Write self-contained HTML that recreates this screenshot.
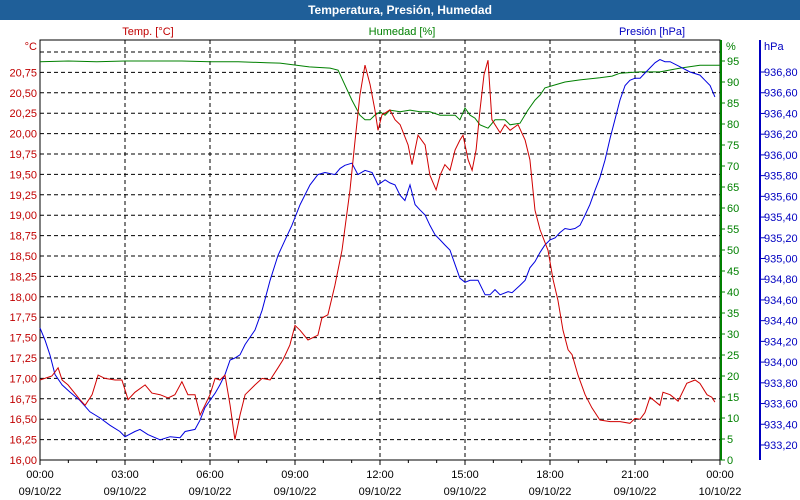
<!DOCTYPE html>
<html><head><meta charset="utf-8"><style>
body{margin:0;background:#fff;}
svg{display:block;font-family:"Liberation Sans",sans-serif;font-size:11px;}
</style></head><body>
<svg id="chart" width="800" height="500">
<rect x="0" y="0" width="800" height="500" fill="#fff"/>
<rect x="0" y="0" width="800" height="20" fill="#1f5f99"/>
<text x="400" y="14" text-anchor="middle" fill="#fff" font-weight="bold" font-size="12">Temperatura, Presión, Humedad</text>
<text x="148" y="35" text-anchor="middle" fill="#c00000">Temp. [°C]</text>
<text x="402" y="35" text-anchor="middle" fill="#008000">Humedad [%]</text>
<text x="652" y="35" text-anchor="middle" fill="#0000c0">Presión [hPa]</text>
<text x="37" y="50" text-anchor="end" fill="#c00000">°C</text>
<text x="726" y="50" fill="#008000">%</text>
<text x="764" y="50" fill="#0000c0">hPa</text>
<g id="grid"></g>
<g id="axes"></g>
<g id="series"></g>
</svg>
<script>
const tempHours=[0,0.42,0.64,0.78,0.99,1.41,1.59,1.84,2.05,2.29,2.65,2.89,3.11,3.35,3.71,3.95,4.24,4.52,4.76,5.01,5.22,5.47,5.65,5.82,6.0,6.18,6.35,6.53,6.71,6.88,7.06,7.24,7.59,7.84,8.12,8.4,8.58,8.82,9.0,9.18,9.46,9.81,9.95,10.16,10.41,10.66,10.94,11.12,11.29,11.47,11.65,11.82,11.93,12.07,12.21,12.35,12.53,12.71,12.99,13.13,13.34,13.59,13.76,13.98,14.12,14.29,14.47,14.65,14.82,14.93,15.11,15.25,15.39,15.53,15.67,15.81,15.95,16.24,16.41,16.59,16.87,17.12,17.29,17.47,17.65,17.93,18.11,18.28,18.46,18.64,18.78,18.99,19.24,19.48,19.76,20.12,20.47,20.82,21.0,21.18,21.35,21.53,21.88,21.99,22.24,22.52,22.83,23.12,23.29,23.54,23.71,23.82];
const tempValues=[16.98,17.03,17.13,16.98,16.92,16.74,16.67,16.8,17.04,17.0,16.98,16.98,16.74,16.83,16.92,16.82,16.8,16.76,16.8,16.96,16.8,16.8,16.55,16.67,16.8,17.0,16.98,17.04,16.67,16.25,16.55,16.8,16.92,17.0,16.98,17.13,17.23,17.41,17.65,17.59,17.47,17.53,17.74,17.78,18.14,18.57,19.31,19.92,20.47,20.84,20.6,20.29,20.04,20.23,20.26,20.29,20.17,20.11,19.86,19.62,19.98,19.86,19.49,19.31,19.49,19.62,19.55,19.8,19.92,19.98,19.68,19.55,19.8,20.29,20.72,20.9,20.17,20.01,20.11,20.04,20.11,19.92,19.68,19.06,18.82,18.57,18.21,17.96,17.59,17.35,17.29,17.04,16.8,16.64,16.49,16.47,16.47,16.45,16.51,16.5,16.58,16.77,16.67,16.83,16.8,16.72,16.94,16.98,16.94,16.8,16.77,16.71];
const humHours=[0,1,2,3,4,5,6,7,8,8.47,9.5,10.24,10.52,10.76,11.01,11.29,11.47,11.65,11.82,12.0,12.18,12.35,12.71,13.06,13.41,13.76,14.12,14.65,14.82,15.0,15.18,15.35,15.53,15.81,16.06,16.41,16.59,16.94,17.22,17.47,17.65,17.82,18.18,18.53,19.06,19.76,20.19,20.47,21.18,21.88,22.59,23.29,24];
const humValues=[94.8,95,94.8,95,95,95,94.8,94.8,94.6,94.5,93.6,93.3,92.8,89.3,85.7,82.1,81.0,81.0,82.1,82.9,82.1,83.3,82.9,83.3,82.9,82.9,82.1,82.1,81.0,83.8,82.1,81.4,79.8,79.0,81.0,81.0,79.8,80.2,83.3,85.7,86.9,88.6,89.3,90.0,90.5,91.0,91.4,92.1,92.4,92.4,93.3,94.0,94.0];
const presHours=[0,0.18,0.35,0.53,0.78,1.06,1.41,1.76,2.12,2.47,2.82,3.0,3.35,3.53,3.81,4.24,4.59,4.94,5.12,5.47,5.65,5.82,6.0,6.18,6.35,6.53,6.71,6.88,7.06,7.24,7.59,7.84,8.12,8.4,8.65,8.89,9.18,9.53,9.81,10.06,10.41,10.59,10.76,11.01,11.22,11.47,11.72,11.93,12.18,12.35,12.53,12.71,12.88,13.06,13.24,13.41,13.59,13.76,13.94,14.12,14.29,14.47,14.65,14.82,15.0,15.18,15.46,15.71,15.88,16.06,16.24,16.52,16.66,16.94,17.12,17.29,17.47,17.65,17.82,18.0,18.18,18.35,18.53,18.71,18.88,19.06,19.24,19.41,19.59,19.76,19.94,20.12,20.29,20.47,20.65,20.82,21.0,21.18,21.35,21.53,21.71,21.88,22.06,22.24,22.59,22.94,23.29,23.47,23.65,23.82];
const presValues=[934.33,934.21,934.07,933.88,933.78,933.71,933.63,933.52,933.46,933.39,933.33,933.28,933.33,933.35,933.30,933.25,933.28,933.27,933.33,933.35,933.44,933.56,933.63,933.70,933.78,933.88,934.02,934.04,934.07,934.17,934.31,934.50,934.79,935.03,935.18,935.32,935.52,935.71,935.81,935.83,935.81,935.87,935.90,935.92,935.81,935.85,935.83,935.71,935.76,935.73,935.71,935.61,935.56,935.71,935.52,935.47,935.42,935.32,935.23,935.18,935.13,935.08,934.94,934.81,934.77,934.79,934.79,934.65,934.65,934.70,934.65,934.68,934.67,934.74,934.79,934.91,934.97,935.06,935.13,935.18,935.20,935.25,935.29,935.28,935.29,935.32,935.42,935.52,935.66,935.78,935.95,936.16,936.34,936.53,936.67,936.72,936.74,936.74,936.79,936.84,936.89,936.92,936.90,936.90,936.85,936.80,936.77,936.72,936.67,936.56];
const tempTicks=["16,00","16,25","16,50","16,75","17,00","17,25","17,50","17,75","18,00","18,25","18,50","18,75","19,00","19,25","19,50","19,75","20,00","20,25","20,50","20,75"];
const humTicks=[0,5,10,15,20,25,30,35,40,45,50,55,60,65,70,75,80,85,90,95];
const presTicks=["933,20","933,40","933,60","933,80","934,00","934,20","934,40","934,60","934,80","935,00","935,20","935,40","935,60","935,80","936,00","936,20","936,40","936,60","936,80"];
const timeLabels=["00:00","03:00","06:00","09:00","12:00","15:00","18:00","21:00","00:00"];
const dateLabels=["09/10/22","09/10/22","09/10/22","09/10/22","09/10/22","09/10/22","09/10/22","09/10/22","10/10/22"];

const L=40,R=720,T=40,B=460;
const xS=h=>L+h/24*(R-L);
const yT=v=>B-(v-16)*81.6;
const yH=v=>B-v*4.2;
const yP=v=>B-(v-933.055)*103.6;
const NS="http://www.w3.org/2000/svg";
function mk(tag,attrs,parent,txt){const e=document.createElementNS(NS,tag);for(const k in attrs)e.setAttribute(k,attrs[k]);if(txt!==undefined)e.textContent=txt;parent.appendChild(e);return e;}
const grid=document.getElementById('grid'),axes=document.getElementById('axes'),series=document.getElementById('series');
// horizontal grid (temp)
for(let i=0;i<=20;i++){const y=yT(16+i*0.25);if(y<T+2||i===0)continue;
 const l=mk('line',{x1:L,x2:R,y1:y,y2:y,stroke:'#000','stroke-dasharray':'4,3','stroke-width':1},grid);
 
 }
timeLabels.forEach((t,i)=>{const x=xS(i*3);
 if(i>0&&i<8){const l=mk('line',{x1:x,x2:x,y1:T,y2:B,stroke:'#000','stroke-dasharray':'4,3'},grid);
 
 }
 const a=mk('text',{x:x,y:478,'text-anchor':'middle',fill:'#000'},axes,t);
 
 
 const b=mk('text',{x:x,y:495,'text-anchor':'middle',fill:'#000'},axes,dateLabels[i]);
 
 });
for(let h=0;h<=24;h++){const x=xS(h);const tk=mk('line',{x1:x,x2:x,y1:B,y2:B+(h%3===0?5:3),stroke:'#000'},axes);
 
 }
const frame=mk('rect',{x:L,y:T,width:R-L,height:B-T,fill:'none',stroke:'#000'},axes);


const ga=mk('line',{x1:R+1,x2:R+1,y1:T,y2:B,stroke:'#008000','stroke-width':2},axes);


const pa=mk('line',{x1:760,x2:760,y1:T,y2:B,stroke:'#0000c0','stroke-width':2},axes);


tempTicks.forEach((t,i)=>{const y=yT(16+i*0.25);
 const e=mk('text',{x:37,y:y+4,'text-anchor':'end',fill:'#c00000'},axes,t);
 
 });
humTicks.forEach(v=>{const y=yH(v);
 const tk=mk('line',{x1:R,x2:R+5,y1:y,y2:y,stroke:'#008000'},axes);
 
 
 const e=mk('text',{x:727,y:y+4,fill:'#008000'},axes,String(v));
 
 });
presTicks.forEach(t=>{const v=parseFloat(t.replace(',','.'));const y=yP(v);
 const tk=mk('line',{x1:760,x2:765,y1:y,y2:y,stroke:'#0000c0'},axes);
 
 
 const e=mk('text',{x:764,y:y+4,fill:'#0000c0'},axes,t);
 
 });
function line(hs,vs,ys,color,name){const d=hs.map((h,i)=>(i?'L':'M')+xS(h).toFixed(1)+','+ys(vs[i]).toFixed(1)).join('');
 const p=mk('path',{d:d,fill:'none',stroke:color,'stroke-width':1},series);
 
 }
line(humHours,humValues,yH,'#008000','humidity-line');
line(presHours,presValues,yP,'#0000e0','pressure-line');
line(tempHours,tempValues,yT,'#d00000','temperature-line');
</script>
</body></html>
